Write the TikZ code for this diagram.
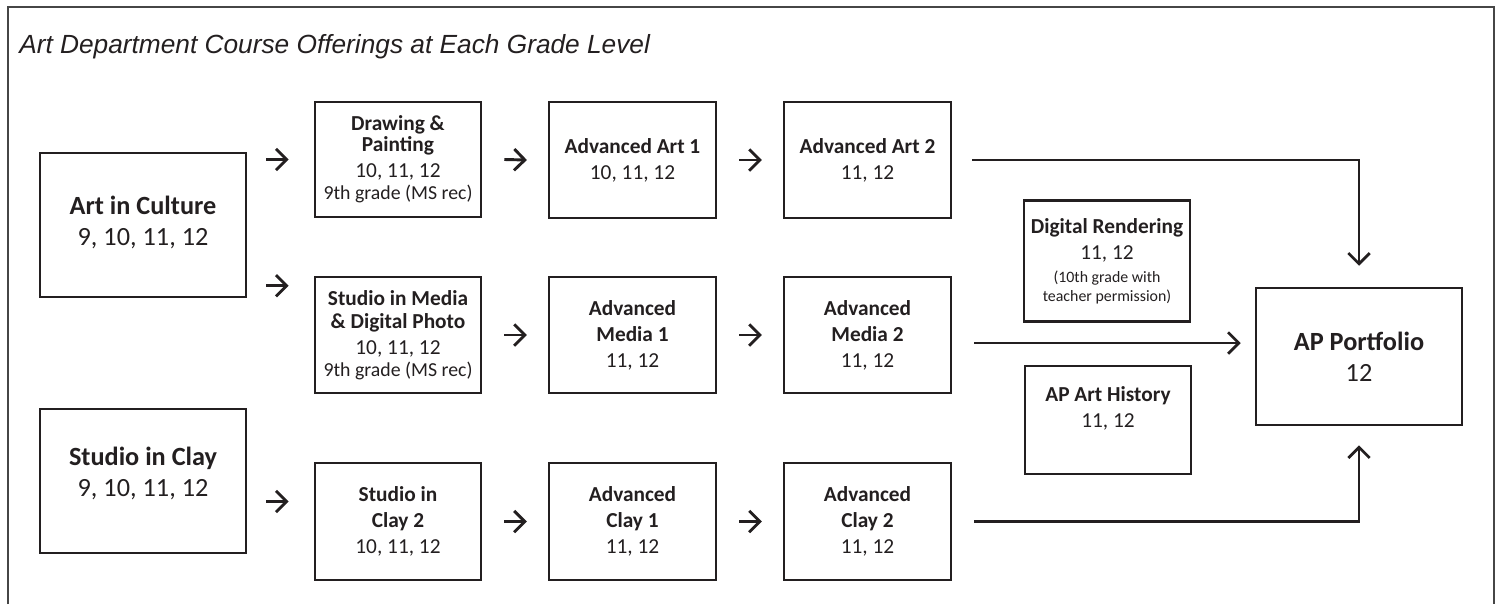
\documentclass[tikz,border=0pt]{standalone}
\usepackage{fontspec}
\setmainfont{Carlito}
\newfontfamily\titlefont{Liberation Sans}
\usetikzlibrary{arrows.meta}
\definecolor{ink}{RGB}{35,31,32}
\definecolor{framec}{RGB}{70,70,70}
\newcommand\bigf{\fontsize{19.7}{23.3}\selectfont}
\newcommand\normf{\fontsize{16}{19.5}\selectfont}
\newcommand\smallf{\fontsize{14.85}{17}\selectfont}
\newcommand\tinyf{\fontsize{11.9}{14}\selectfont}
\begin{document}
\begin{tikzpicture}[x=0.75pt,y=-0.75pt,
  box/.style={draw=ink, line width=1.9pt, align=center, text=ink, inner sep=0pt, font=\normf,
    minimum width=125pt, minimum height=87pt},
  bigbox/.style={box, font=\bigf, minimum width=154.5pt, minimum height=108pt},
  sarr/.style={draw=ink, line width=2.2pt, -{Straight Barb[length=8pt,width=16pt]}},
  conn/.style={draw=ink, line width=2.1pt, -{Straight Barb[length=8pt,width=16pt]}},
  framel/.style={draw=framec, line width=1.4pt}]
\useasboundingbox (0,0) rectangle (1503,604);
% frame
\coordinate (f1) at (8,604);
\coordinate (f2) at (8,7);
\coordinate (f3) at (1494,7);
\coordinate (f4) at (1494,604);
\draw[framel] (f1) -- (f2) -- (f3) -- (f4);
% title
\node[anchor=base west, inner sep=0pt, text=ink, font=\titlefont\itshape\fontsize{19.7}{24}\selectfont] (title) at (19,53) {Art Department Course Offerings at Each Grade Level};
% boxes
\node[bigbox] (aic) at (143,225) {\textbf{Art in Culture}\\9, 10, 11, 12\\[-17pt]\mbox{}};
\node[bigbox] (sic) at (143,481) {\textbf{Studio in Clay}\\9, 10, 11, 12\\[-9pt]\mbox{}};
\node[box, minimum width=124.5pt, minimum height=86.25pt] (dp) at (398,159.5) {\textbf{Drawing \&}\\[-4pt]\textbf{Painting}\\10, 11, 12\\[-3pt]{\smallf 9th grade (MS rec)}};
\node[box, minimum width=124.5pt] (sm) at (398,335) {\textbf{Studio in Media}\\[-2.25pt]\textbf{\& Digital Photo}\\10, 11, 12\\[-3pt]{\smallf 9th grade (MS rec)}};
\node[box, minimum width=124.5pt, minimum height=87.75pt] (sc2) at (398,521.5) {\textbf{Studio in}\\\textbf{Clay 2}\\10, 11, 12};
\node[box] (aa1) at (632.5,160) {\textbf{Advanced Art 1}\\10, 11, 12};
\node[box] (am1) at (632.5,335) {\textbf{Advanced}\\\textbf{Media 1}\\11, 12};
\node[box, minimum height=87.75pt] (ac1) at (632.5,521.5) {\textbf{Advanced}\\\textbf{Clay 1}\\11, 12};
\node[box] (aa2) at (867.5,160) {\textbf{Advanced Art 2}\\11, 12};
\node[box] (am2) at (867.5,335) {\textbf{Advanced}\\\textbf{Media 2}\\11, 12};
\node[box, minimum height=87.75pt] (ac2) at (867.5,521.5) {\textbf{Advanced}\\\textbf{Clay 2}\\11, 12};
\node[box, minimum width=124.5pt, minimum height=90.75pt] (dr) at (1107,261) {\textbf{Digital Rendering}\\11, 12\\[-2.25pt]{\tinyf (10th grade with}\\[-5.25pt]{\tinyf teacher permission)}};
\node[box, minimum width=124.5pt, minimum height=81pt] (aph) at (1108,420) {\textbf{AP Art History}\\11, 12\\\mbox{}};
\node[bigbox, minimum height=102.75pt] (app) at (1359,356.5) {\textbf{AP Portfolio}\\12};
% short arrows
\draw[sarr] ([shift={(19,0)}]aic.east |- dp.west) -- ([shift={(-25,0)}]dp.west);
\draw[sarr] ([shift={(19,10)}]aic.east |- sm.north) -- ([shift={(-25,10)}]sm.north west);
\draw[sarr] ([shift={(19,-20)}]sic.east |- sc2.west) -- ([shift={(-25,-20)}]sc2.west);
\draw[sarr] ([shift={(22,0)}]dp.east) -- ([shift={(-21,0)}]aa1.west);
\draw[sarr] ([shift={(22,0)}]sm.east) -- ([shift={(-21,0)}]am1.west);
\draw[sarr] ([shift={(22,0)}]sc2.east) -- ([shift={(-21,0)}]ac1.west);
\draw[sarr] ([shift={(22,0)}]aa1.east) -- ([shift={(-21,0)}]aa2.west);
\draw[sarr] ([shift={(22,0)}]am1.east) -- ([shift={(-21,0)}]am2.west);
\draw[sarr] ([shift={(22,0)}]ac1.east) -- ([shift={(-21,0)}]ac2.west);
% long connectors
\draw[conn] ([shift={(20,0)}]aa2.east) -| ([shift={(0,-21)}]app.north);
\coordinate (mstart) at ([shift={(22,8)}]am2.east);
\draw[conn] (mstart) -- ([shift={(-14,0)}]mstart -| app.west);
\draw[conn] ([shift={(22,0)}]ac2.east) -| ([shift={(0,19)}]app.south);
\end{tikzpicture}
\end{document}
